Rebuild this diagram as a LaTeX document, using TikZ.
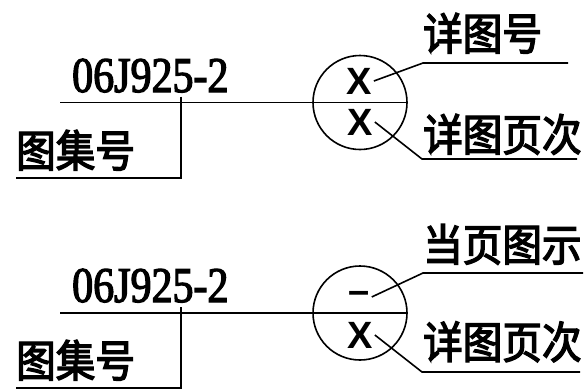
\documentclass[tikz,border=0pt]{standalone}
\usepackage{fontspec}
\setmainfont{Liberation Serif}
\newfontfamily\cjkfont[FakeStretch=0.9, FakeBold=3]{Noto Sans CJK SC}
\newfontfamily\markfont{Liberation Sans}
\newfontfamily\codefont[FakeStretch=0.84, FakeBold=2.5]{Liberation Serif}
\usetikzlibrary{positioning}
\tikzset{
    leader/.style={line width=1.6pt},
    cjkLabel/.style={anchor=base west, inner sep=0pt, font=\cjkfont\fontsize{44}{44}\selectfont},
    codeLabel/.style={anchor=base west, inner sep=0pt, font=\codefont\fontsize{50}{50}\selectfont},
    detailMark/.style={inner sep=2pt, font=\markfont\bfseries\fontsize{38}{38}\selectfont},
    indexCircle/.style={circle, draw, line width=1.6pt, minimum size=94pt, inner sep=0pt},
}

\begin{document}
\begin{tikzpicture}[x=1pt, y=-1pt]
    \useasboundingbox (0,0) rectangle (585,389);

    % upper symbol
    \node[indexCircle] (circ1) at (360, 102.5) {};
    \node[codeLabel] (code1) at (72, 92) {06J925-2};
    \node[cjkLabel] (set1) at (16, 167) {图集号};
    \node[detailMark] (up1) at (359, 81) {X};
    \node[detailMark] (lo1) at (360, 122) {X};
    \node[cjkLabel] (lblUp1) at (423, 50) {详图号};
    \node[cjkLabel] (lblLo1) at (423, 151) {详图页次};

    \coordinate (s1) at (60, 102.5);
    \coordinate (v1) at (181, 96.5);
    \coordinate (b1) at (16, 178);
    \coordinate (k1) at (423, 63);
    \coordinate (e1) at (568, 63);
    \coordinate (k2) at (422, 159);
    \coordinate (e2) at (577, 159);

    \draw[leader] (s1) -- (circ1.east);
    \draw[leader] (v1) |- (b1);
    \draw[leader] (up1.east) -- (k1) -- (e1);
    \draw[leader] (lo1.east) -- (k2) -- (e2);

    % lower symbol
    \node[indexCircle] (circ2) at (360, 313) {};
    \node[codeLabel] (code2) at (72, 302) {06J925-2};
    \node[cjkLabel] (set2) at (16, 377) {图集号};
    \node[detailMark, anchor=base] (up2) at (359, 303) {–};
    \node[detailMark] (lo2) at (360, 335) {X};
    \node[cjkLabel] (lblUp2) at (423, 261) {当页图示};
    \node[cjkLabel] (lblLo2) at (423, 358.5) {详图页次};

    \coordinate (s2) at (60, 313);
    \coordinate (v2) at (181, 307);
    \coordinate (b2) at (16, 388);
    \coordinate (k3) at (423, 273);
    \coordinate (e3) at (583, 273);
    \coordinate (k4) at (422, 372);
    \coordinate (e4) at (580, 372);

    \draw[leader] (s2) -- (circ2.east);
    \draw[leader] (v2) |- (b2);
    \draw[leader] (up2.east) -- (k3) -- (e3);
    \draw[leader] (lo2.east) -- (k4) -- (e4);

\end{tikzpicture}
\end{document}
